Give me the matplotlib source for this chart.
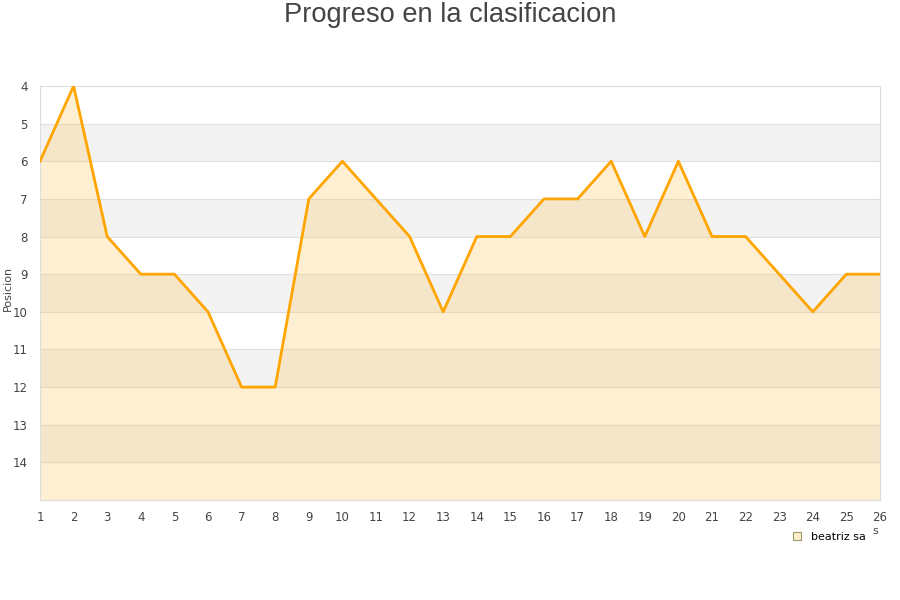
import matplotlib.pyplot as plt
from matplotlib.lines import Line2D

jornadas = list(range(1, 27))
posicion = [6, 4, 8, 9, 9, 10, 12, 12, 7, 6, 7, 8, 10, 8, 8, 7, 7, 6, 8, 6, 8, 8, 9, 10, 9, 9]
jugador = 'beatriz sa'

fig = plt.figure(figsize=(9, 6), dpi=100)
ax = fig.add_axes([40 / 900, 1 - 500 / 600, 840 / 900, 414 / 600])

ax.set_xlim(1, 26)
ax.set_ylim(15, 4)

# bandas alternas
for y in range(4, 15):
    if y % 2 == 1:
        ax.axhspan(y, y + 1, color='#f3f3f3', zorder=0, lw=0)
for y in range(5, 15):
    ax.axhline(y, color='#e0e0e0', lw=0.8, zorder=1)

ax.fill_between(jornadas, posicion, 15, color='#ffc04d', alpha=0.25, lw=0, zorder=2)
ax.plot(jornadas, posicion, color='#ffa500', lw=2, zorder=3)

ax.set_xticks(jornadas)
ax.set_yticks(range(4, 15))
ax.tick_params(axis='both', length=0, labelsize=8.5, colors='#444444')
ax.tick_params(axis='x', pad=8)
ax.tick_params(axis='y', pad=9)
for s in ax.spines.values():
    s.set_color('#dddddd')
ax.set_ylabel('Posicion', fontsize=8, color='#444444')
ax.yaxis.set_label_coords(-27 / 840, 0.51)

fig.text(0.5, 1 - 15 / 600, 'Progreso en la clasificacion', ha='center', va='center',
         fontsize=19.6, color='#444444', family='Liberation Sans')

fig.text(878 / 900, 1 - 531 / 600, 's', ha='right', va='center', fontsize=8, color='#444444')
handle = Line2D([], [], marker='s', ls='none', markersize=6,
                markerfacecolor='#ffeecc', markeredgecolor='#999966', markeredgewidth=0.8)
leg = fig.legend([handle], [jugador], loc='center', bbox_to_anchor=(826 / 900, 1 - 537 / 600),
                 frameon=False, fontsize=8, handletextpad=0.3, borderpad=0.2)

fig.savefig('out.png', dpi=100, facecolor='white')
